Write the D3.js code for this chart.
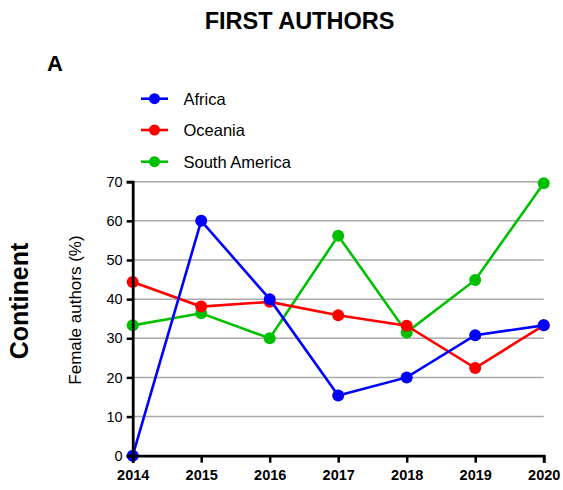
<!DOCTYPE html>
<html>
<head>
<meta charset="utf-8">
<script src="https://cdn.jsdelivr.net/npm/d3@7"></script>
<style>
  body { margin: 0; background: #fff; }
  svg { display: block; font-family: "Liberation Sans", Arial, sans-serif; }
</style>
</head>
<body>
<div id="chart"></div>
<script>
// years on the x axis
const years = [2014, 2015, 2016, 2017, 2018, 2019, 2020];
const yTicks = [0, 10, 20, 30, 40, 50, 60, 70];

// female first authors (%) per continent
const africa = [0, 60, 40, 15.4, 20, 30.8, 33.3];
const oceania = [44.4, 38.1, 39.3, 35.9, 33.2, 22.4, 33.3];
const southAmerica = [33.3, 36.4, 30, 56.2, 31.5, 44.9, 69.6];

const seriesNames = ['Africa', 'Oceania', 'South America'];
const seriesColors = ['#0000ff', '#ff0000', '#00c000'];
const seriesValues = [africa, oceania, southAmerica];

const width = 563, height = 490;
const margin = { top: 181.7, right: 19.3, bottom: 34.3, left: 132.7 };
const innerW = width - margin.left - margin.right;
const innerH = height - margin.top - margin.bottom;

const svg = d3.select('#chart').append('svg')
  .attr('width', width)
  .attr('height', height);

const x = d3.scaleLinear().domain([2014, 2020]).range([0, innerW]);
const y = d3.scaleLinear().domain([0, 70]).range([innerH, 0]);

const g = svg.append('g')
  .attr('transform', `translate(${margin.left},${margin.top})`);

// horizontal gridlines
g.append('g')
  .selectAll('line')
  .data(yTicks.filter(d => d > 0))
  .join('line')
  .attr('x1', 0)
  .attr('x2', innerW)
  .attr('y1', d => y(d))
  .attr('y2', d => y(d))
  .attr('stroke', '#aaaaaa')
  .attr('stroke-width', 1.5);

// series lines, drawn so Africa ends up on top
const line = d3.line()
  .x((d, i) => x(years[i]))
  .y(d => y(d));

const order = [2, 1, 0];
order.forEach(k => {
  const sg = g.append('g');
  sg.append('path')
    .datum(seriesValues[k])
    .attr('d', line)
    .attr('fill', 'none')
    .attr('stroke', seriesColors[k])
    .attr('stroke-width', 2.6);
  sg.selectAll('circle')
    .data(seriesValues[k])
    .join('circle')
    .attr('cx', (d, i) => x(years[i]))
    .attr('cy', d => y(d))
    .attr('r', 6)
    .attr('fill', seriesColors[k]);
});

// y axis
const yAxis = g.append('g')
  .call(d3.axisLeft(y).tickValues(yTicks).tickSize(6).tickPadding(4).tickFormat(d3.format('d')));
yAxis.select('.domain').attr('stroke', '#000').attr('stroke-width', 2.8);
yAxis.selectAll('.tick line').attr('stroke', '#000').attr('stroke-width', 2.5);
yAxis.selectAll('.tick text')
  .attr('font-size', '14.5px')
  .attr('fill', '#000')
  .attr('font-family', '"Liberation Sans", Arial, sans-serif');

// x axis
const xAxis = g.append('g')
  .attr('transform', `translate(0,${innerH})`)
  .call(d3.axisBottom(x).tickValues(years).tickSize(7).tickPadding(7).tickFormat(d3.format('d')));
xAxis.select('.domain').attr('stroke', '#000').attr('stroke-width', 2.8);
xAxis.selectAll('.tick line').attr('stroke', '#000').attr('stroke-width', 2.5);
xAxis.selectAll('.tick text')
  .attr('font-size', '14.5px')
  .attr('font-weight', 'bold')
  .attr('fill', '#000')
  .attr('font-family', '"Liberation Sans", Arial, sans-serif');

// titles
svg.append('text')
  .attr('x', 299.5)
  .attr('y', 29)
  .attr('text-anchor', 'middle')
  .attr('font-size', '23.5px')
  .attr('font-weight', 'bold')
  .text('FIRST AUTHORS');

svg.append('text')
  .attr('x', 47)
  .attr('y', 70.7)
  .attr('font-size', '22px')
  .attr('font-weight', 'bold')
  .text('A');

svg.append('text')
  .attr('transform', 'translate(28,301) rotate(-90)')
  .attr('text-anchor', 'middle')
  .attr('font-size', '25px')
  .attr('font-weight', 'bold')
  .text('Continent');

svg.append('text')
  .attr('transform', 'translate(81,310) rotate(-90)')
  .attr('text-anchor', 'middle')
  .attr('font-size', '17px')
  .text('Female authors (%)');

// legend
const legend = svg.append('g');
const legendY = [98.7, 130, 161.7];
seriesNames.forEach((name, k) => {
  const lg = legend.append('g').attr('transform', `translate(0,${legendY[k]})`);
  lg.append('line')
    .attr('x1', 141).attr('x2', 168)
    .attr('stroke', seriesColors[k])
    .attr('stroke-width', 2.6);
  lg.append('circle')
    .attr('cx', 154.5).attr('r', 5.5)
    .attr('fill', seriesColors[k]);
  lg.append('text')
    .attr('x', 183.5)
    .attr('y', 6)
    .attr('font-size', '16.5px')
    .text(name);
});
</script>
</body>
</html>
